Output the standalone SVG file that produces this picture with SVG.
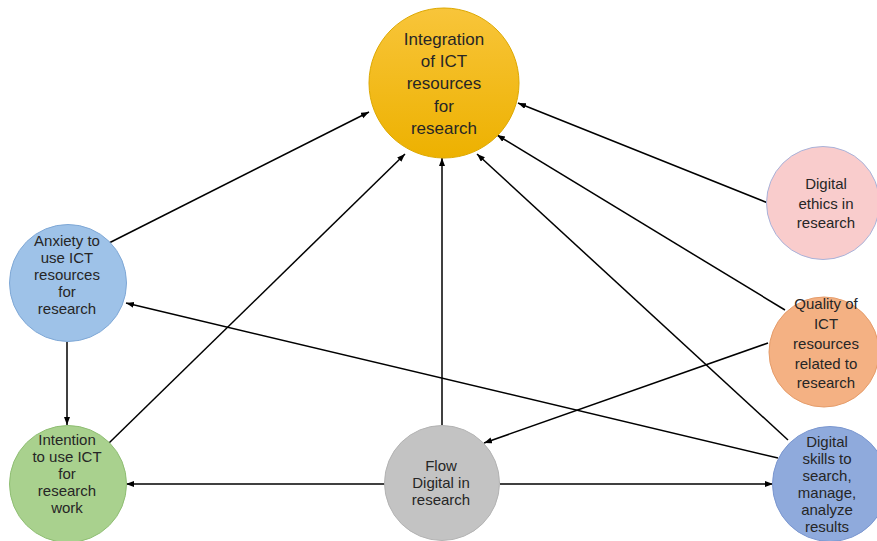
<svg xmlns="http://www.w3.org/2000/svg" width="877" height="541" viewBox="0 0 877 541">
<style>
.lbl{font-family:"Liberation Sans",Arial,sans-serif;font-size:15px;fill:#262626;text-anchor:middle}
.big{font-size:17px}
.conn line{stroke:#000;stroke-width:1.5;fill:none;marker-end:url(#ah)}
</style>
<defs>
<marker id="ah" markerUnits="userSpaceOnUse" markerWidth="9" markerHeight="7" refX="8" refY="3" orient="auto">
<path d="M0,0 L8,3 L0,6 z" fill="#000"/>
</marker>
<linearGradient id="gGold" x1="0" y1="0" x2="0" y2="1">
<stop offset="0" stop-color="#F8C53A"/>
<stop offset="1" stop-color="#EDB100"/>
</linearGradient>
</defs>
<rect width="877" height="541" fill="#fff"/>
<g id="connectors" class="conn">
<line x1="109" y1="243" x2="369" y2="112"/>
<line x1="109" y1="443" x2="405" y2="154"/>
<line x1="442" y1="425" x2="442" y2="158"/>
<line x1="788" y1="440" x2="477" y2="154"/>
<line x1="785" y1="310" x2="497" y2="135"/>
<line x1="768" y1="203" x2="518" y2="103"/>
<line x1="778" y1="458" x2="126" y2="303"/>
<line x1="768" y1="343" x2="484" y2="443"/>
<line x1="67" y1="342" x2="67" y2="425"/>
<line x1="385" y1="484" x2="126" y2="484"/>
<line x1="500" y1="484" x2="773" y2="484"/>
</g>
<g id="integration">
<circle cx="444" cy="83" r="75" fill="url(#gGold)" stroke="#DDA800" stroke-width="1"/>
<text class="lbl big" x="444" y="45">Integration</text>
<text class="lbl big" x="444" y="67">of ICT</text>
<text class="lbl big" x="444" y="89">resources</text>
<text class="lbl big" x="444" y="112">for</text>
<text class="lbl big" x="444" y="134">research</text>
</g>
<g id="anxiety">
<circle cx="68" cy="283" r="58.5" fill="#9EC2E8" stroke="#7FA8D6" stroke-width="1"/>
<text class="lbl" x="67" y="246">Anxiety to</text>
<text class="lbl" x="67" y="263">use ICT</text>
<text class="lbl" x="67" y="280">resources</text>
<text class="lbl" x="67" y="297">for</text>
<text class="lbl" x="67" y="314">research</text>
</g>
<g id="intention">
<circle cx="68" cy="484" r="58.5" fill="#A9D18E" stroke="#8FBE73" stroke-width="1"/>
<text class="lbl" x="67" y="445">Intention</text>
<text class="lbl" x="67" y="462">to use ICT</text>
<text class="lbl" x="67" y="479">for</text>
<text class="lbl" x="67" y="496">research</text>
<text class="lbl" x="67" y="513">work</text>
</g>
<g id="flow">
<circle cx="442" cy="483" r="57.5" fill="#C3C3C3" stroke="#B3B3B3" stroke-width="1"/>
<text class="lbl" x="441" y="471">Flow</text>
<text class="lbl" x="441" y="488">Digital in</text>
<text class="lbl" x="441" y="505">research</text>
</g>
<g id="ethics">
<circle cx="823" cy="203" r="56.5" fill="#F9CCCC" stroke="#A9B3DA" stroke-width="1"/>
<text class="lbl" x="826" y="189">Digital</text>
<text class="lbl" x="826" y="209">ethics in</text>
<text class="lbl" x="826" y="228">research</text>
</g>
<g id="quality">
<circle cx="824" cy="352" r="55" fill="#F4B183" stroke="#E59C6A" stroke-width="1"/>
<text class="lbl" x="826" y="309">Quality of</text>
<text class="lbl" x="826" y="329">ICT</text>
<text class="lbl" x="826" y="349">resources</text>
<text class="lbl" x="826" y="369">related to</text>
<text class="lbl" x="826" y="388">research</text>
</g>
<g id="skills">
<circle cx="830" cy="484" r="57.5" fill="#8FAADC" stroke="#7B97D0" stroke-width="1"/>
<text class="lbl" x="827" y="447">Digital</text>
<text class="lbl" x="827" y="464">skills to</text>
<text class="lbl" x="827" y="481">search,</text>
<text class="lbl" x="827" y="498">manage,</text>
<text class="lbl" x="827" y="515">analyze</text>
<text class="lbl" x="827" y="532">results</text>
</g>
</svg>
